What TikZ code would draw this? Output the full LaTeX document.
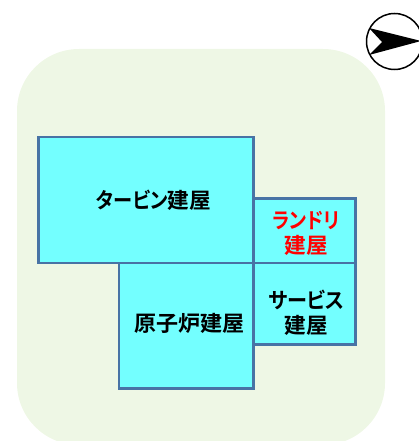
\documentclass[tikz,border=0pt]{standalone}
\usepackage{fontspec}
\setmainfont{Noto Sans CJK JP}[BoldFont={* Bold},RawFeature={+palt}]
\newcommand{\kanawide}[2]{{\addfontfeature{FakeStretch=#1}#2}}
\tikzset{
  building/.style={draw=wallblue,fill=roomcyan,line width=2.6pt,inner sep=0pt,outer sep=0pt},
  label/.style={font=\fontsize{21.6}{25.5}\selectfont\bfseries,align=center,inner sep=0pt,text=black},
}
\definecolor{wallblue}{RGB}{72,115,165}
\definecolor{roomcyan}{RGB}{115,255,255}
\definecolor{sitegreen}{RGB}{238,247,229}
\definecolor{labelred}{RGB}{255,0,0}
\begin{document}
\begin{tikzpicture}[x=1pt,y=-1pt]
\useasboundingbox (0,0) rectangle (419,441);
\begin{scope}
\clip (0,0) rectangle (419,441);
\fill[sitegreen,rounded corners=62pt] (17,49) rectangle (385,445);
\draw[building] (38.6,137) rectangle (253.6,263);
\draw[building] (119,263) rectangle (253.6,388.7);
\draw[building] (253.6,198.5) rectangle (355.3,263);
\draw[building] (253.6,263) rectangle (355.3,344.5);
\node[circle,draw=black,fill=white,line width=1.5pt,minimum size=56pt,inner sep=0pt] (compass) at (394.5,41.5) {};
\fill[black] (369,28) -- (421,41) -- (369,55) -- (382,42) -- cycle;
\end{scope}
\node[label] (turbine) at (153.5,200) {\kanawide{0.89}{タービン}建屋};
\node[label] (reactor) at (189.5,323) {\addfontfeature{FakeStretch=1.02}原子炉建屋};
\node[label,text=labelred] (laundry) at (306,233.5) {\kanawide{0.87}{ランドリ}\\建屋};
\node[label] (service) at (306.5,313) {\kanawide{0.93}{サービス}\\建屋};
\end{tikzpicture}
\end{document}
